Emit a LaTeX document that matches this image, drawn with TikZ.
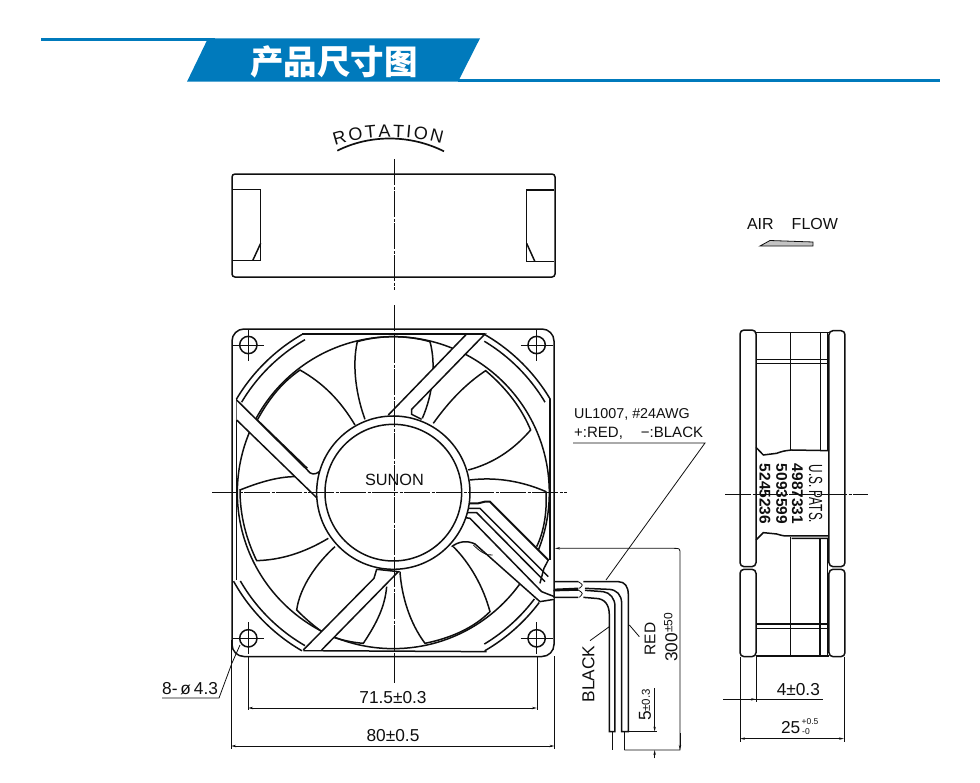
\documentclass[tikz,border=0pt]{standalone}
\usepackage{fontspec}
\setmainfont{Liberation Sans}
\newfontfamily\cjk{Noto Sans CJK SC}
\usepackage{xcolor}
\usepackage{tikz}
\usetikzlibrary{arrows.meta,decorations.text}
\definecolor{bannerblue}{RGB}{0,122,188}
\definecolor{inkgray}{RGB}{15,15,15}
\tikzset{
    outline/.style={line width=1.5pt, inkgray},
    thinline/.style={line width=0.8pt, inkgray},
    cline/.style={line width=0.8pt, inkgray, dash pattern=on 26pt off 1.5pt on 3pt off 1.5pt},
    dimline/.style={line width=0.8pt, inkgray},
    dimtip/.style={{Stealth[length=5pt,width=2.4pt]}-},
    bothtips/.style={{Stealth[length=5pt,width=2.4pt]}-{Stealth[length=5pt,width=2.4pt]}},
    lbl/.style={font=\fontsize{17.3}{17.3}\selectfont, inner sep=0pt, inkgray},
    patlbl/.style={font=\fontsize{15.5}{15.5}\selectfont\bfseries, inner sep=0pt, inkgray, rotate=-90},
    zoomview/.style 2 args={xshift=#1pt, yshift=-#2pt, x=0.3333pt, y=-0.3333pt}
}
% arc around the fan axis, radius and two angles
\newcommand{\fanarc}[3]{\draw[outline] plot[domain=#2:#3, samples=24] ({520+#1*cos(\x)},{518-#1*sin(\x)});}
% one mounting hole with its cross
\newcommand{\mounthole}[1]{
    \draw[outline] (#1) circle (26);
    \draw[thinline] (#1) ++(-48,0) -- ++(96,0) (#1) ++(0,-48) -- ++(0,96);
}
\begin{document}
\begin{tikzpicture}[x=1pt, y=-1pt]
    \useasboundingbox (0,0) rectangle (980,782);

    % banner
    \fill[bannerblue] (41,38.3) rectangle (215,40.8);
    \fill[bannerblue] (458,79) rectangle (940,81.7);
    \fill[bannerblue] (208,38.3) -- (480,38.3) -- (458,81.7) -- (187,81.7) -- cycle;
    \node[white, inner sep=0pt, font=\cjk\fontsize{33.5}{33.5}\selectfont\bfseries] (bannertitle) at (334,61.5) {产品尺寸图};

    % top view
    \draw[outline, rounded corners=3pt] (232,174) rectangle (555,277);
    \begin{scope}[zoomview={220}{110}]
        \draw[outline] (38,238) rectangle (122,452);
        \draw[outline] (122,400) -- (98,452);
        \draw[outline] (1003,240) -- (920,240) -- (920,455) -- (1003,455);
        \draw[outline] (920,400) -- (945,455);
        \draw[cline] (522,148) -- (522,540);
        % rotation mark
        \draw[line width=1.7pt, inkgray] (352,122) .. controls (450,73) and (570,73) .. (672,124);
        \path[decorate, decoration={text along path, text align={fit to path},
            text={|\fontsize{18}{18}\selectfont\color{inkgray}|ROTATION}}]
            (345,106) .. controls (440,74) and (570,74) .. (665,102);
    \end{scope}

    % air flow mark
    \node[lbl, font=\fontsize{16}{16}\selectfont] (airflow) at (792.5,224) {AIR\hspace{18pt}FLOW};
    \draw[thinline, fill=inkgray!25] (760,246) -- (770,240.5) -- (813,242) -- (813,246) -- cycle;

    % front view, outer frame
    \draw[outline, rounded corners=12pt] (232,329) rectangle (554,656.5);
    \begin{scope}[zoomview={220}{320}]
        \draw[outline] (50,238) -- (50,780);
        \draw[outline] (245,42) -- (795,42);
        \draw[outline] (990,238) -- (990,720);
        \draw[outline] (250,992) -- (800,995);
        \fanarc{548}{120}{149.2}
        \fanarc{530}{120}{149.2}
        \fanarc{548}{30.8}{60}
        \fanarc{530}{30.8}{59}
        \fanarc{548}{209}{240}
        \fanarc{530}{210}{240}
        \fanarc{548}{-60}{-37}
        \fanarc{530}{-59}{-37}

        % blades
        \draw[outline] (435,298) .. controls (410,230) and (395,140) .. (412,65) .. controls (480,45) and (560,45) .. (630,65) .. controls (648,130) and (640,220) .. (607,295);
        \draw[outline] (640,310) .. controls (690,240) and (740,190) .. (797,152) .. controls (860,205) and (905,265) .. (932,330) .. controls (880,390) and (820,430) .. (745,450);
        \draw[outline] (750,480) .. controls (830,470) and (910,485) .. (978,515) .. controls (982,580) and (970,640) .. (950,680);
        \draw[outline] (540,755) .. controls (545,830) and (570,910) .. (615,970) .. controls (690,955) and (760,925) .. (810,875) .. controls (790,800) and (750,730) .. (700,680);
        \draw[outline] (345,680) .. controls (290,730) and (240,800) .. (230,870) .. controls (260,900) and (290,925) .. (320,945) .. controls (360,960) and (400,968) .. (430,970) .. controls (470,910) and (495,860) .. (500,800);
        \draw[outline] (325,655) .. controls (250,700) and (180,720) .. (110,722) .. controls (80,660) and (60,590) .. (60,510) .. controls (110,490) and (170,470) .. (225,470);
        \draw[outline] (405,315) .. controls (360,240) and (310,190) .. (240,150) .. controls (190,185) and (150,230) .. (112,300) -- (262,445);

        % venturi
        \draw[outline] (520,518) circle (468);

        % struts
        \draw[outline, fill=white] (505,285) -- (740,42) -- (795,42) -- (575,268) -- (575,283) -- (605,298);
        \draw[outline, fill=white] (50,240) -- (262,450) .. controls (272,465) and (285,465) .. (298,455) -- (292,535) -- (50,300);
        \draw[outline, fill=white] (250,990) -- (462,775) -- (470,748) -- (535,755) -- (305,990);

        % wire channel
        \fill[white] (725,548) -- (810,545) -- (985,720) -- (990,810) -- (1003,838) -- (960,845) -- (770,680) -- (735,665) -- (695,680) -- cycle;
        \draw[line width=2pt, inkgray] (725,550) -- (775,550) -- (795,545) -- (810,545) -- (985,720);
        \draw[outline] (722,565) -- (780,565) -- (985,770);
        \draw[outline] (720,578) -- (770,578) -- (975,785);
        \draw[outline] (715,590) -- (750,595) -- (965,815) -- (1003,830);
        \draw[outline] (695,680) .. controls (715,665) and (740,660) .. (765,672) -- (960,845) -- (1003,838);
        \draw[thinline] (760,675) .. controls (780,695) and (800,708) .. (818,705);
        \draw[outline] (985,720) -- (972,745) -- (960,790);

        % hub
        \draw[outline, fill=white] (520,518) circle (230);
        \draw[outline] (520,518) circle (205);

        % mounting holes
        \mounthole{85,75}
        \mounthole{950,75}
        \mounthole{85,955}
        \mounthole{950,955}
    \end{scope}
    \node[lbl, font=\fontsize{16.3}{16.3}\selectfont] (hubname) at (394.5,480) {SUNON};

    % centre lines
    \draw[cline] (394,305) -- (394,683);
    \draw[cline] (212,492) -- (567,492);

    % side view
    \begin{scope}[zoomview={720}{320}]
        \draw[outline, rounded corners=4pt] (60,30) rectangle (108,740);
        \draw[outline, rounded corners=4pt] (60,748) rectangle (108,1010);
        \draw[outline, rounded corners=4pt] (327,32) rectangle (375,740);
        \draw[outline, rounded corners=4pt] (327,748) rectangle (375,1010);
        \draw[outline] (108,37) -- (327,37) (108,1008) -- (327,1008);
        \draw[outline] (108,118) -- (327,118) (108,131) -- (327,131);
        \draw[outline] (108,912) -- (327,912) (108,925) -- (327,925);
        \draw[outline] (212,37) -- (212,390) (302,37) -- (302,393) (322,37) -- (322,393);
        \draw[outline] (212,650) -- (212,1008) (300,655) -- (300,1008) (322,655) -- (322,1008);
        \draw[outline] (108,382) -- (130,405) -- (170,400) .. controls (190,393) .. (215,390) -- (327,392);
        \draw[outline] (108,660) -- (130,638) -- (170,642) .. controls (190,648) .. (215,648) -- (327,648) (215,655) -- (327,655);
        \draw[cline] (15,522) -- (445,522);
        \node[patlbl] (patus) at (287,522) {\fontsize{19}{19}\selectfont\mdseries\scalebox{0.62}[1]{U.S.\ PATS.}};
        \node[patlbl] (patone) at (232,522) {4987331};
        \node[patlbl] (pattwo) at (185,522) {5093599};
        \node[patlbl] (patthree) at (135,522) {5245236};

        % side dimensions
        \draw[dimline] (60,1010) -- (60,1265) (372,1010) -- (372,1265) (108,1010) -- (108,1145);
        \draw[dimline] (10,1138) -- (308,1138);
        \draw[dimline, dimtip] (108,1138) -- (10,1138);
        \draw[dimline, bothtips] (60,1256) -- (372,1256);
        \node[lbl] (sidefour) at (235,1110) {4±0.3};
        \node[lbl] (sidetotal) at (212,1224) {25};
        \node[lbl, font=\fontsize{8.5}{8.5}\selectfont] (sidetolup) at (270,1205) {+0.5};
        \node[lbl, font=\fontsize{8.5}{8.5}\selectfont] (sidetollo) at (258,1236) {-0};
    \end{scope}

    % wires
    \begin{scope}[zoomview={520}{520}]
        \draw[outline] (105,185) -- (175,185) (105,208) -- (175,205) (100,212) -- (175,210) (100,232) -- (175,232);
        \draw[thinline] (175,185) .. controls (190,195) .. (178,205) (175,210) .. controls (190,220) .. (178,232);
        \draw[outline] (190,185) -- (295,185) .. controls (315,185) and (325,200) .. (325,225) -- (325,635) -- (305,635) -- (305,250) .. controls (305,225) and (290,208) .. (265,208) -- (195,205);
        \draw[outline] (195,211) -- (250,215) .. controls (270,218) and (285,235) .. (285,260) -- (285,635) -- (268,635) -- (268,285) .. controls (268,255) and (255,235) .. (225,235) -- (190,232);
        \draw[outline] (277,635) -- (277,690);
        \draw[outline] (313,635) -- (313,690);

        % wire length dimension
        \draw[dimline, dimtip] (105,85) -- (462,85) .. controls (480,85) .. (480,103) -- (480,690) -- (313,690);
        \draw[dimline, -{Stealth[length=5pt,width=2.4pt]}] (480,640) -- (480,690);
        % strip length dimension
        \draw[dimline] (325,635) -- (412,635);
        \draw[dimline, -{Stealth[length=5pt,width=2.4pt]}] (404,505) -- (404,635);
        \draw[dimline, -{Stealth[length=5pt,width=2.4pt]}] (404,715) -- (404,690);
        \node[lbl, rotate=90] (striplen) at (375,555) {5\raisebox{1pt}{\fontsize{11.5}{11.5}\selectfont ±0.3}};
        \node[lbl, rotate=90] (wirelen) at (452,352) {300\raisebox{5pt}{\fontsize{12}{12}\selectfont ±50}};
        \node[lbl, rotate=90, font=\fontsize{15.5}{15.5}\selectfont] (redlabel) at (390,357) {RED};
        \node[lbl, rotate=90] (blacklabel) at (205,462) {BLACK};
        \draw[thinline] (358,350) -- (328,315);
        \draw[thinline] (210,362) -- (268,320);
    \end{scope}

    % front dimensions
    \draw[dimline] (248,656) -- (248,710) (537,656) -- (537,710);
    \draw[dimline, bothtips] (248,708) -- (537,708);
    \draw[dimline] (231,640) -- (231,749) (554.5,656) -- (554.5,749);
    \draw[dimline, bothtips] (231,746) -- (554.5,746);
    \node[lbl] (dimhole) at (393,698) {71.5±0.3};
    \node[lbl] (dimframe) at (393,736) {80±0.5};

    % hole callout
    \node[lbl, anchor=base west] (holelabel) at (162,694) {8-\,ø\,4.3};
    \draw[thinline] (162,698) -- (219,698) -- (232,663) -- (240,645);

    % cable callout
    \node[lbl, anchor=base west, font=\fontsize{14.3}{14.3}\selectfont] (cablespec) at (574,418) {UL1007,\hspace{4pt}\#24AWG};
    \node[lbl, anchor=base west, font=\fontsize{15}{15}\selectfont] (cablecolor) at (574,437) {+:RED,\hspace{18pt}−:BLACK};
    \draw[thinline] (573,443) -- (705,443) -- (606,580);
\end{tikzpicture}
\end{document}
